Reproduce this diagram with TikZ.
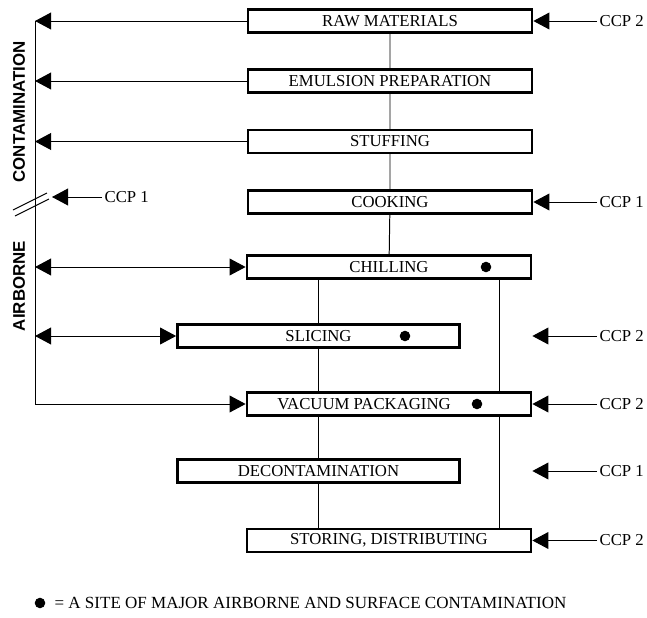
\documentclass[tikz,border=0pt]{standalone}
\usepackage{xcolor}
\usepackage{fontspec}
\setmainfont{Liberation Serif}
\setsansfont{Liberation Sans}
\usetikzlibrary{arrows.meta}

\tikzset{
  stage/.style={draw, line width=1.9pt, minimum height=0.57cm, inner sep=0pt,
    font=\fontsize{11.9}{13}\selectfont},
  wide/.style={minimum width=7.1cm},
  narrow/.style={minimum width=7.05cm},
  ccp/.style={inner sep=1.5pt, font=\fontsize{11.9}{13}\selectfont},
  side/.style={rotate=90, font=\sffamily\bfseries\fontsize{12}{14}\selectfont},
  site/.style={circle, fill, inner sep=0pt, minimum size=7.5pt},
  arr/.style={-{Triangle[length=4mm,width=4.2mm]}},
  arrs/.style={{Triangle[length=4mm,width=4.2mm]}-{Triangle[length=4mm,width=4.2mm]}}
}

\begin{document}
\begin{tikzpicture}[x=0.025cm, y=-0.025cm, line width=0.7pt]

\useasboundingbox (0,0) rectangle (647,618);

% Define the main coordinates
\coordinate (lline) at (35,0);
\coordinate (rline) at (499,0);
\coordinate (ccpLtip) at (52,197);

% Draw the stages
\node[stage, wide] (raw) at (390,21) {RAW MATERIALS};
\node[stage, wide] (emul) at (390,81) {EMULSION PREPARATION};
\node[stage, wide] (stuff) at (390,141.5) {STUFFING};
\node[stage, wide] (cook) at (390,202) {COOKING};
\node[stage, wide] (chill) at (389,267) {CHILLING};
\node[stage, narrow] (slice) at (318.5,336) {SLICING};
\node[stage, wide] (vac) at (389,404) {VACUUM PACKAGING\hspace*{1.25cm}};
\node[stage, narrow] (decon) at (318.5,471) {DECONTAMINATION};
\node[stage, wide] (store) at (389,540.5) {STORING, DISTRIBUTING};

% Draw the sites of contamination
\node[site] (chilldot) at (486,267) {};
\node[site] (slicedot) at (405,336) {};
\node[site] (vacdot) at (477,404) {};

% Draw the flow
\draw (raw) -- (emul) -- (stuff) -- (cook) -- (chill);
\draw (chill.south -| slice) -- (slice.north);
\draw (slice.south) -- (vac.north -| slice);
\draw (vac.south -| slice) -- (decon.north);
\draw (decon.south) -- (store.north -| decon);
\draw (chill.south -| rline) -- (vac.north -| rline);
\draw (vac.south -| rline) -- (store.north -| rline);

% Draw the airborne contamination
\draw[arr] (raw.west) -- (raw.west -| lline);
\draw[arr] (emul.west) -- (emul.west -| lline);
\draw[arr] (stuff.west) -- (stuff.west -| lline);
\draw[arrs] (chill.west -| lline) -- (chill.west);
\draw[arrs] (slice.west -| lline) -- (slice.west);
\draw[arr] (raw.west -| lline) -- (vac.west -| lline) -- (vac.west);
\draw (13,210) -- (47,193);
\draw (15,216) -- (49,199);

\node[side] (contam) at (19,112) {CONTAMINATION};
\node[side] (airb) at (19,286) {AIRBORNE};

% Draw the control points
\node[ccp, anchor=west] (ccpL) at (102,197) {CCP 1};
\draw[arr] (ccpL.west) -- (ccpLtip);

\node[ccp, anchor=west] (ccpA) at (597,21) {CCP 2};
\node[ccp, anchor=west] (ccpB) at (597,202) {CCP 1};
\node[ccp, anchor=west] (ccpC) at (597,336) {CCP 2};
\node[ccp, anchor=west] (ccpD) at (597,404) {CCP 2};
\node[ccp, anchor=west] (ccpE) at (597,471) {CCP 1};
\node[ccp, anchor=west] (ccpF) at (597,540.5) {CCP 2};
\draw[arr] (ccpA.west) -- (raw.east);
\draw[arr] (ccpB.west) -- (cook.east);
\draw[arr] (ccpC.west) -- (ccpC.west -| vac.east);
\draw[arr] (ccpD.west) -- (vac.east);
\draw[arr] (ccpE.west) -- (ccpE.west -| vac.east);
\draw[arr] (ccpF.west) -- (store.east);

% Draw the legend
\node[site] (legdot) at (40,603) {};
\node[ccp, anchor=west, font=\fontsize{12.1}{14}\selectfont] (legend) at (52,603) {= A SITE OF MAJOR AIRBORNE AND SURFACE CONTAMINATION};

\end{tikzpicture}
\end{document}
